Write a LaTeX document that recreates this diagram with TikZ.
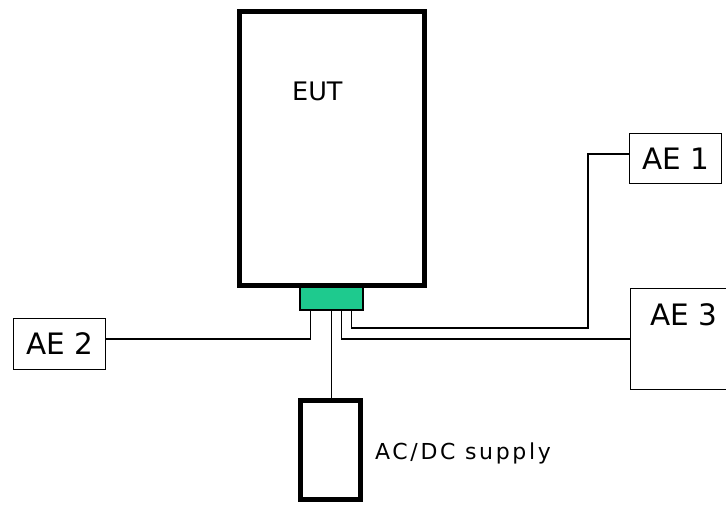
\documentclass[tikz,border=0pt]{standalone}
\usepackage{fontspec}
\setmainfont{DejaVu Sans}
\newfontfamily\spacedfont{DejaVu Sans}[LetterSpace=12]
\usetikzlibrary{positioning}
\definecolor{portG}{RGB}{30,202,142}

\begin{document}
\begin{tikzpicture}[x=1pt,y=-1pt,
  thickbox/.style={draw,line width=5pt,inner sep=0pt},
  aebox/.style={draw,line width=1.5pt,inner sep=0pt,font=\fontsize{29.5}{31}\selectfont},
  wire/.style={line width=1.4pt},
  lbl/.style={inner sep=0pt,anchor=base west}]
\useasboundingbox (0,0) rectangle (726,504);
% equipment under test and its port
\node[thickbox,minimum width=185pt,minimum height=274pt] (eut) at (332,148.5) {};
\node[lbl,font=\fontsize{25.5}{27}\selectfont] (euttext) at (292,100) {EUT};
\node[draw,fill=portG,line width=1.2pt,minimum width=63pt,minimum height=23pt,inner sep=0pt] (port) at (331.5,298.5) {};
% auxiliary equipment
\node[aebox,minimum width=92pt,minimum height=50pt] (ae1) at (675.5,158.5) {AE 1};
\node[aebox,minimum width=92pt,minimum height=51pt] (ae2) at (59.5,344) {AE 2};
\node[aebox,minimum width=110pt,minimum height=101pt,anchor=north west] (ae3) at (629.75,287.75) {};
\node[lbl,font=\fontsize{29.5}{31}\selectfont] (ae3text) at (650,325) {AE 3};
% supply
\node[thickbox,minimum width=60pt,minimum height=99pt] (acdc) at (330.5,450) {};
\node[lbl,font=\fontsize{22}{24}\selectfont\spacedfont] (acdctext) at (375,459) {AC/DC supply};
% cables
\coordinate (ae1turn) at (588,328);
\draw[wire] ([xshift=11pt]port.south west) |- ([yshift=5pt]ae2.east);
\draw[wire] ([xshift=32pt]port.south west) -- ([xshift=32pt]port.south west |- acdc.north);
\draw[wire] ([xshift=42pt]port.south west) |- (ae3.west);
\draw[wire] ([xshift=52pt]port.south west) |- (ae1turn) |- ([yshift=4.5pt]ae1.west);
\end{tikzpicture}
\end{document}
